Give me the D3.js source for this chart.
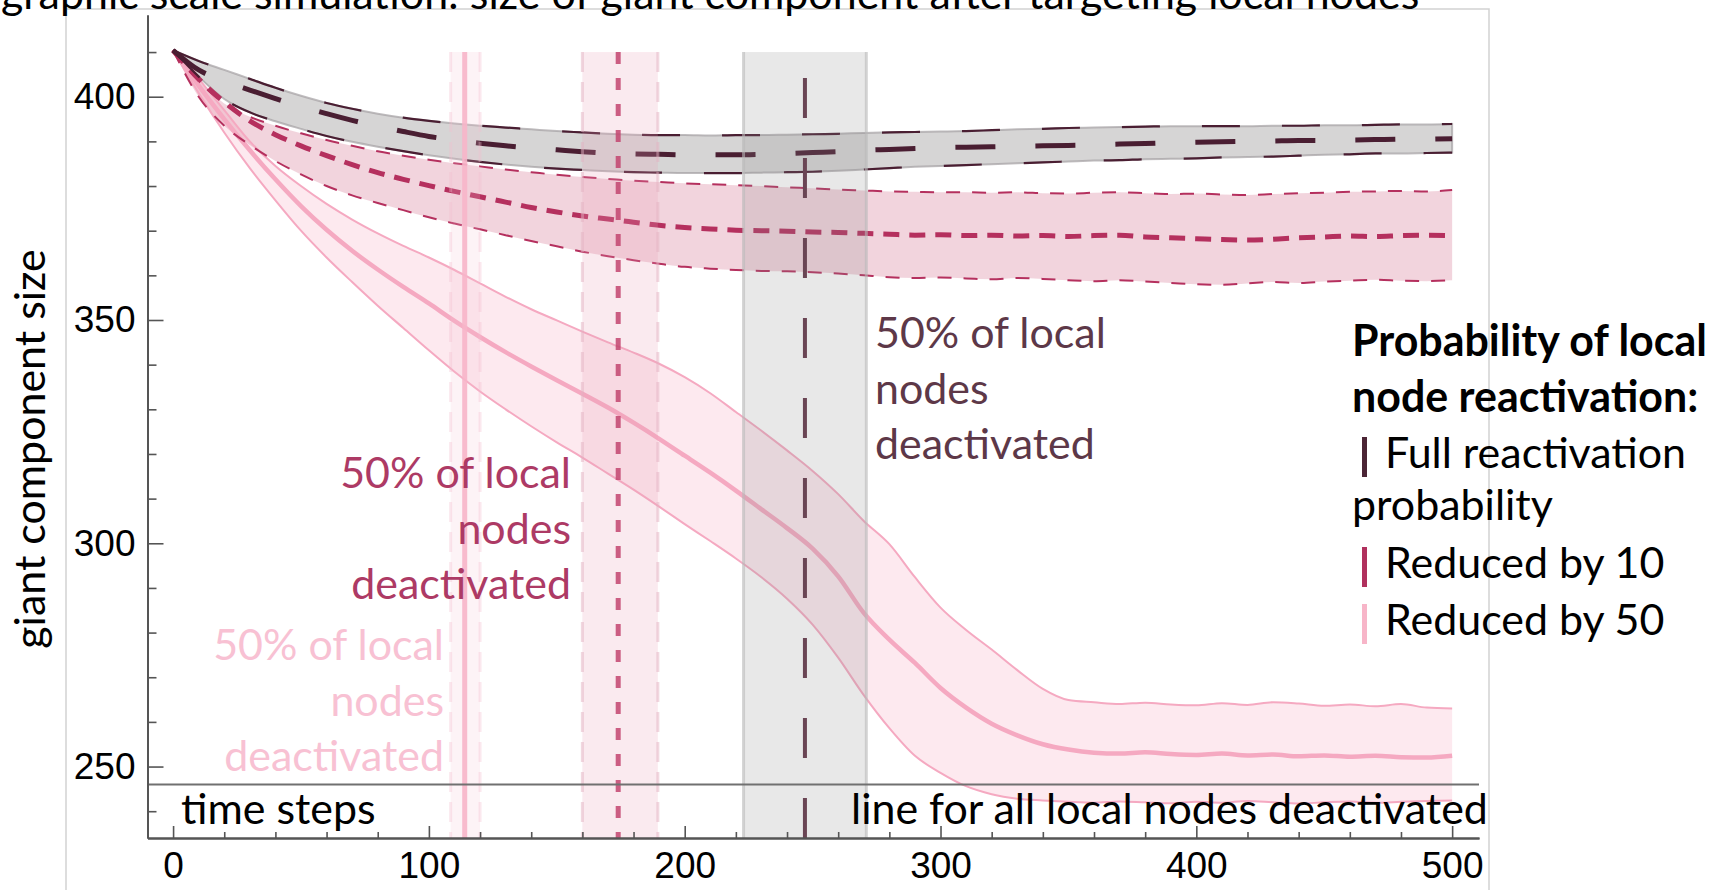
<!DOCTYPE html>
<html>
<head>
<meta charset="utf-8">
<script src="https://cdn.jsdelivr.net/npm/d3@7/dist/d3.min.js"></script>
<style>
  html, body { margin: 0; padding: 0; background: #fff; overflow: hidden; }
  svg { display: block; }
</style>
</head>
<body>
<svg id="chart" width="1722" height="890"></svg>
<script>
// ---- data -------------------------------------------------------------
// time step grid shared by every series (0 .. 500, every 10 steps)
const timeSteps = d3.range(0, 501, 10);

// full reactivation probability: lower bound, mean, upper bound
const fullLower = [410.4,404.5,399.5,396.5,394.5,392.8,391.2,389.9,388.8,387.8,386.9,386.1,385.4,384.8,384.3,383.9,383.6,383.3,383.1,383.0,382.9,382.9,382.9,383.0,383.1,383.2,383.4,383.7,384.0,384.3,384.5,384.7,384.9,385.1,385.3,385.5,385.7,385.8,386.0,386.1,386.2,386.4,386.5,386.6,386.8,387.0,387.1,387.3,387.3,387.4,387.5];
const fullMean  = [410.4,406.0,403.5,401.5,399.6,397.8,396.2,394.7,393.4,392.2,391.1,390.3,389.6,389.0,388.5,388.1,387.7,387.4,387.2,387.1,387.0,387.0,387.0,387.1,387.3,387.5,387.7,388.0,388.2,388.4,388.6,388.7,388.8,388.9,389.0,389.1,389.2,389.4,389.5,389.7,389.8,389.9,390.0,390.1,390.2,390.2,390.3,390.4,390.5,390.5,390.6];
const fullUpper = [410.4,408.0,406.0,404.0,402.0,400.2,398.6,397.3,396.2,395.3,394.6,394.0,393.5,393.1,392.7,392.3,392.0,391.7,391.5,391.4,391.4,391.3,391.4,391.4,391.5,391.6,391.7,391.9,392.0,392.1,392.2,392.3,392.5,392.7,392.8,393.0,393.1,393.2,393.3,393.4,393.4,393.4,393.4,393.5,393.5,393.6,393.6,393.7,393.8,393.8,393.9];

// reactivation probability reduced by 10
const red10Lower = [410.4,400.0,393.5,389.2,385.6,382.6,380.0,377.9,376.2,374.6,373.0,371.6,370.3,369.0,367.7,366.5,365.3,364.3,363.4,362.6,361.9,361.5,361.2,361.0,360.9,360.7,360.4,360.0,359.6,359.4,359.5,359.3,359.1,359.4,359.2,358.9,358.7,358.9,358.6,358.3,358.0,357.9,358.2,358.5,358.3,358.6,358.8,359.0,358.8,358.7,358.9];
const red10Mean  = [410.4,404.0,398.8,394.6,391.5,389.0,386.8,384.8,383.0,381.5,380.1,378.8,377.6,376.4,375.2,374.2,373.3,372.6,371.9,371.2,370.7,370.4,370.1,370.0,369.9,369.7,369.6,369.4,369.2,369.0,369.1,368.9,369.0,368.8,368.9,368.7,368.9,369.0,368.6,368.4,368.2,368.0,367.9,368.1,368.4,368.6,368.8,368.7,368.9,369.0,368.9];
const red10Upper = [410.4,403.5,398.5,395.5,393.5,391.8,390.3,389.0,387.8,386.8,385.9,385.1,384.4,383.7,383.1,382.5,382.0,381.6,381.2,380.9,380.6,380.4,380.2,380.0,379.7,379.5,379.2,379.0,378.8,378.7,378.6,378.6,378.5,378.6,378.4,378.3,378.5,378.6,378.4,378.2,378.3,378.1,378.0,378.2,378.4,378.5,378.7,378.8,378.9,378.8,379.1];

// reactivation probability reduced by 50
const red50Lower = [410.4,400.8,392.0,384.0,376.8,370.0,364.0,358.5,353.2,348.2,343.2,338.4,334.0,330.0,326.2,322.6,319.2,315.6,312.0,308.2,304.3,300.5,296.6,292.4,287.6,281.8,274.4,266.0,258.6,252.4,248.6,245.6,243.8,242.8,242.4,242.1,241.9,242.2,242.0,241.8,242.1,241.9,242.3,242.0,241.7,242.0,242.2,241.9,242.1,242.3,242.4];
const red50Mean  = [410.4,402.5,395.0,388.0,381.5,375.5,370.2,365.5,361.3,357.4,353.7,349.8,346.2,342.8,339.6,336.5,333.5,330.4,327.0,323.4,319.6,315.8,311.8,307.6,303.4,298.8,292.6,284.4,278.4,273.2,267.6,263.2,259.6,257.0,255.0,253.8,253.1,252.9,253.2,252.8,252.6,252.9,252.5,252.7,252.3,252.5,252.2,252.4,252.1,252.0,252.4];
const red50Upper = [410.4,404.0,397.0,390.0,384.5,380.0,376.0,372.5,369.4,366.6,364.0,361.2,358.2,355.2,352.4,349.9,347.4,345.0,342.7,340.2,337.2,333.6,329.4,325.2,320.8,316.2,311.0,305.0,299.8,292.4,285.6,280.6,276.2,271.6,267.4,264.9,264.4,264.0,264.3,263.9,263.7,264.2,263.8,264.4,264.1,263.6,263.9,263.5,264.0,263.2,263.0];

// time step at which 50% of local nodes are deactivated, with its spread
const halfCenter = [114, 174, 247];
const halfLow    = [108.5, 160, 223];
const halfHigh   = [120, 189.5, 271];

// size at which all local nodes are deactivated
const allDeactivated = 246;

// axis ticks
const xMajorTicks = [0, 100, 200, 300, 400, 500];
const xMinorTicks = d3.range(20, 501, 20).filter(v => v % 100 !== 0);
const yMajorTicks = [250, 300, 350, 400];
const yMinorTicks = d3.range(240, 411, 10).filter(v => v % 50 !== 0);

// labels
const titleText = "graphic scale simulation: size of giant component after targeting local nodes";
const yTitle = "giant component size";
const xTitle = "time steps";
const baseLineLabel = "line for all local nodes deactivated";
const halfLabel = ["50% of local", "nodes", "deactivated"];
const legendTitle = ["Probability of local", "node reactivation:"];
const legendItems = [["Full reactivation", "probability"], ["Reduced by 10"], ["Reduced by 50"]];

// ---- look -------------------------------------------------------------
const seriesStyle = [
  { key: "full",  lower: fullLower,  mean: fullMean,  upper: fullUpper,
    color: "#4a1e32", band: "#9e9a9c", bandOpacity: 0.42, edge: "#a4a0a2",
    meanWidth: 5, boundWidth: 2.2, meanDash: "40 40", boundDash: "38 42" },
  { key: "red10", lower: red10Lower, mean: red10Mean, upper: red10Upper,
    color: "#b5305e", band: "#d9839f", bandOpacity: 0.35, edge: null,
    meanWidth: 5, boundWidth: 2, meanDash: "16 10", boundDash: "14 12" },
  { key: "red50", lower: red50Lower, mean: red50Mean, upper: red50Upper,
    color: "#f5a9c1", band: "#f9c6d6", bandOpacity: 0.38, edge: null,
    meanWidth: 4.5, boundWidth: 2, meanDash: null, boundDash: null }
];
const legendColors = ["#4b2535", "#b0305d", "#f7b5c8"];
const markerStyle = [
  { line: "#f7b5c9", lineOpacity: 0.9, width: 5, dash: null, offset: 0,
    band: "#f6c4d3", bandOpacity: 0.2, edge: "#f3bccd", edgeOpacity: 0.35, edgeDash: "20 10" },
  { line: "#c2446f", lineOpacity: 0.85, width: 5, dash: "12 14", offset: 0,
    band: "#e8a0b5", bandOpacity: 0.22, edge: "#e3b1c2", edgeOpacity: 0.5, edgeDash: "20 10" },
  { line: "#6a4554", lineOpacity: 1, width: 4, dash: "40 40", offset: 54,
    band: "#8a8a8a", bandOpacity: 0.2, edge: "#b9b9b9", edgeOpacity: 0.6, edgeDash: null }
];
const annotationColors = ["#f8c1d3", "#ad3a65", "#5d3848"];

const BODY = "Lato, 'Open Sans', sans-serif";
const NUM = "'Liberation Sans', Arial, sans-serif";

// ---- drawing ----------------------------------------------------------
const svg = d3.select("#chart");

const x = d3.scaleLinear().domain([-10, 510.5]).range([147.5, 1479]);
const y = d3.scaleLinear().domain([234, 418.3]).range([838, 15]);

// body text size chosen so Lato runs as wide as the original typeface
const probe = svg.append("text").attr("font-family", BODY).attr("font-size", 46).text(baseLineLabel);
const bodySize = 46 * 637 / probe.node().getComputedTextLength();
probe.remove();

// picture frame
svg.append("rect")
  .attr("x", 66).attr("y", 9).attr("width", 1423).attr("height", 920)
  .attr("fill", "none").attr("stroke", "#d2d2d2").attr("stroke-width", 1.5);

// title, partly outside the top edge
svg.append("text")
  .attr("x", 1).attr("y", 9)
  .attr("font-family", BODY).attr("font-size", bodySize)
  .attr("fill", "#000").text(titleText);

const plot = svg.append("g");

const area = data => d3.area()
  .x((d, i) => x(timeSteps[i]))
  .y0((d, i) => y(data.lower[i]))
  .y1((d, i) => y(data.upper[i]))
  .curve(d3.curveMonotoneX)(timeSteps);
const line = values => d3.line()
  .x((d, i) => x(timeSteps[i]))
  .y(d => y(d))
  .curve(d3.curveMonotoneX)(values);

// confidence bands (back to front: reduced by 50, reduced by 10, full)
const order = [2, 1, 0];
order.forEach(k => {
  const s = seriesStyle[k];
  plot.append("path")
    .attr("d", area(s))
    .attr("fill", s.band).attr("fill-opacity", s.bandOpacity)
    .attr("stroke", s.edge || "none").attr("stroke-opacity", 0.7).attr("stroke-width", 2);
});

// bounds and mean lines
order.forEach(k => {
  const s = seriesStyle[k];
  [s.lower, s.upper].forEach(vals => {
    plot.append("path")
      .attr("d", line(vals))
      .attr("fill", "none").attr("stroke", s.color)
      .attr("stroke-width", s.boundWidth)
      .attr("stroke-dasharray", s.boundDash)
      .attr("stroke-linejoin", "round");
  });
  plot.append("path")
    .attr("d", line(s.mean))
    .attr("fill", "none").attr("stroke", s.color)
    .attr("stroke-width", s.meanWidth)
    .attr("stroke-dasharray", s.meanDash)
    .attr("stroke-linejoin", "round");
});

// 50%-deactivated markers: spread band and central line
const markerTop = y(410), markerBottom = y(234);
halfCenter.forEach((c, i) => {
  const m = markerStyle[i];
  const g = plot.append("g");
  g.append("rect")
    .attr("x", x(halfLow[i])).attr("y", markerTop)
    .attr("width", x(halfHigh[i]) - x(halfLow[i]))
    .attr("height", markerBottom - markerTop)
    .attr("fill", m.band).attr("fill-opacity", m.bandOpacity);
  [halfLow[i], halfHigh[i]].forEach(v => {
    g.append("line")
      .attr("x1", x(v)).attr("x2", x(v))
      .attr("y1", markerTop).attr("y2", markerBottom)
      .attr("stroke", m.edge).attr("stroke-width", 3).attr("stroke-opacity", m.edgeOpacity)
      .attr("stroke-dasharray", m.edgeDash);
  });
  g.append("line")
    .attr("x1", x(c)).attr("x2", x(c))
    .attr("y1", markerTop).attr("y2", markerBottom)
    .attr("stroke", m.line).attr("stroke-opacity", m.lineOpacity)
    .attr("stroke-width", m.width)
    .attr("stroke-dasharray", m.dash)
    .attr("stroke-dashoffset", m.offset);
});

// line for all local nodes deactivated
plot.append("line")
  .attr("x1", x.range()[0]).attr("x2", x.range()[1])
  .attr("y1", y(allDeactivated)).attr("y2", y(allDeactivated))
  .attr("stroke", "#707070").attr("stroke-width", 2);

// axes with inward ticks
const axisColor = "#555";
const yAxis = svg.append("g").attr("transform", `translate(${x.range()[0]},0)`);
yAxis.call(d3.axisLeft(y).tickValues(yMinorTicks).tickSizeInner(-9).tickSizeOuter(0).tickFormat(""));
yAxis.append("g").call(d3.axisLeft(y).tickValues(yMajorTicks).tickSizeInner(-16).tickSizeOuter(0).tickPadding(12));
const xAxis = svg.append("g").attr("transform", `translate(0,${y.range()[0]})`);
xAxis.call(d3.axisBottom(x).tickValues(xMinorTicks).tickSizeInner(-6).tickSizeOuter(0).tickFormat(""));
xAxis.append("g").call(d3.axisBottom(x).tickValues(xMajorTicks).tickSizeInner(-12).tickSizeOuter(0).tickPadding(14));
svg.selectAll(".domain").attr("stroke", axisColor).attr("stroke-width", 2);
svg.selectAll(".tick line").attr("stroke", axisColor).attr("stroke-width", 1.6);
svg.selectAll(".tick text")
  .attr("font-family", NUM).attr("font-size", 37).attr("fill", "#000");

// axis titles
svg.append("text")
  .attr("transform", "translate(45,449) rotate(-90)")
  .attr("text-anchor", "middle")
  .attr("font-family", BODY).attr("font-size", bodySize)
  .attr("fill", "#000").text(yTitle);
svg.append("text")
  .attr("x", 181).attr("y", 824)
  .attr("font-family", BODY).attr("font-size", bodySize)
  .attr("fill", "#000").text(xTitle);
svg.append("text")
  .attr("x", 851).attr("y", 824)
  .attr("font-family", BODY).attr("font-size", bodySize)
  .attr("fill", "#000").text(baseLineLabel);

// 50% annotations, one per scenario
const annotations = [
  { x: 444, y: 660, anchor: "end" },
  { x: 571, y: 488, anchor: "end" },
  { x: 875, y: 348, anchor: "start" }
];
annotations.forEach((a, i) => {
  const t = svg.append("text")
    .attr("font-family", BODY).attr("font-size", bodySize)
    .attr("fill", annotationColors[i]).attr("text-anchor", a.anchor);
  halfLabel.forEach((s, j) => {
    t.append("tspan").attr("x", a.x).attr("y", a.y + j * 55.5).text(s);
  });
});

// legend
const legend = svg.append("g");
legendTitle.forEach((s, j) => {
  legend.append("text")
    .attr("x", 1352).attr("y", 356 + j * 56)
    .attr("font-family", BODY).attr("font-size", bodySize).attr("font-weight", 700)
    .attr("fill", "#000").text(s);
});
const itemBase = [468, 578, 635];
legendItems.forEach((lines, i) => {
  legend.append("rect")
    .attr("x", 1362).attr("y", itemBase[i] - 31)
    .attr("width", 5).attr("height", 40)
    .attr("fill", legendColors[i]);
  lines.forEach((s, j) => {
    legend.append("text")
      .attr("x", j === 0 ? 1385 : 1352).attr("y", itemBase[i] + j * 52)
      .attr("font-family", BODY).attr("font-size", bodySize)
      .attr("fill", "#000").text(s);
  });
});
</script>
</body>
</html>
